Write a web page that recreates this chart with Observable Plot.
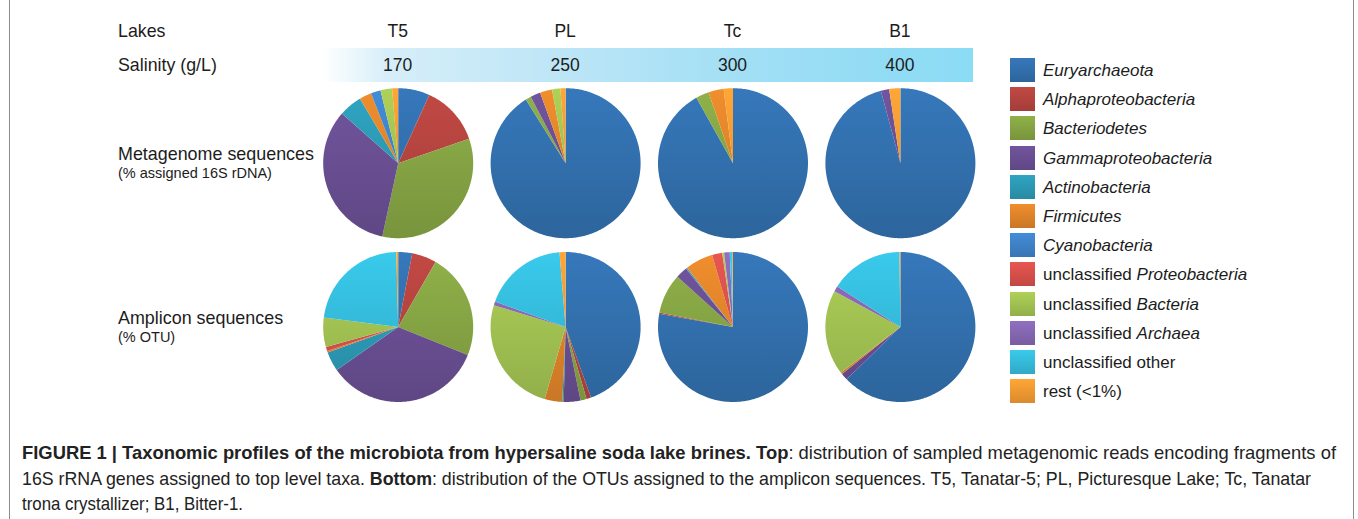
<!DOCTYPE html>
<html><head><meta charset="utf-8">
<script src="https://cdn.jsdelivr.net/npm/d3@7"></script>
<script src="https://cdn.jsdelivr.net/npm/@observablehq/plot@0.6"></script>
<style>
body{margin:0;background:#fff;font-family:"Liberation Sans",Arial,sans-serif;color:#1c1c1c;}
#page{position:relative;width:1358px;height:519px;overflow:hidden;}
.vline{position:absolute;top:0;width:1px;height:519px;background:#8c8c8c;}
.t{position:absolute;white-space:nowrap;line-height:1;transform:translateY(-50%);}
.c{transform:translate(-50%,-50%);}
#salbar{position:absolute;left:322px;top:48px;width:651px;height:34px;
 background:linear-gradient(to right,#ffffff 0%,#d6eef9 10%,#bfe6f7 35%,#a6e0f5 60%,#92dcf4 85%,#8cdcf5 100%);}
.sw{position:absolute;left:1010px;width:25px;height:24px;}
.lg{position:absolute;left:1043px;font-size:17px;white-space:nowrap;line-height:1;transform:translateY(-50%);}
#cap{position:absolute;left:22px;top:441px;font-family:"Liberation Sans Narrow","Liberation Sans",Arial,sans-serif;font-size:17.8px;line-height:25.5px;white-space:nowrap;color:#222;}
#cap span{display:inline-block;transform-origin:0 50%;}
#chart{position:absolute;left:0;top:85px;}
</style></head>
<body>
<div id="page">
  <div class="vline" style="left:9px"></div>
  <div class="vline" style="left:1353px"></div>
  <div id="salbar"></div>
  <div id="chart"></div>
  <div id="cap">
    <div><span data-w="1314"><b>FIGURE 1 | Taxonomic profiles of the microbiota from hypersaline soda lake brines. Top</b>: distribution of sampled metagenomic reads encoding fragments of</span></div>
    <div><span data-w="1289">16S rRNA genes assigned to top level taxa. <b>Bottom</b>: distribution of the OTUs assigned to the amplicon sequences. T5, Tanatar-5; PL, Picturesque Lake; Tc, Tanatar</span></div>
    <div><span data-w="221">trona crystallizer; B1, Bitter-1.</span></div>
  </div>
</div>
<script>
// ---------- data ----------
const lakes = ["T5", "PL", "Tc", "B1"];
const salinity = [170, 250, 300, 400];
const headerLabels = ["Lakes", "Salinity (g/L)"];
const rowLabels = ["Metagenome sequences", "Amplicon sequences"];
const rowSubLabels = ["(% assigned 16S rDNA)", "(% OTU)"];
const taxa = ["Euryarchaeota", "Alphaproteobacteria", "Bacteriodetes", "Gammaproteobacteria",
  "Actinobacteria", "Firmicutes", "Cyanobacteria", "unclassified Proteobacteria",
  "unclassified Bacteria", "unclassified Archaea", "unclassified other", "rest (<1%)"];
const taxaLabelHtml = ["<i>Euryarchaeota</i>", "<i>Alphaproteobacteria</i>", "<i>Bacteriodetes</i>",
  "<i>Gammaproteobacteria</i>", "<i>Actinobacteria</i>", "<i>Firmicutes</i>", "<i>Cyanobacteria</i>",
  "unclassified <i>Proteobacteria</i>", "unclassified <i>Bacteria</i>", "unclassified <i>Archaea</i>",
  "unclassified other", "rest (&lt;1%)"];
const taxaColors = ["#3270ae", "#b5443f", "#86a544", "#6a4f93", "#2c9ab5", "#e0842a",
  "#3f82c8", "#d8504b", "#a2c352", "#8667b3", "#35bcdc", "#f49b32"];
// percentages per sample, in taxa order
const metaT5 = [6.8, 12.9, 33.7, 33.1, 5.0, 2.6, 2.1, 0, 2.5, 0, 0, 1.3];
const metaPL = [91.1, 0, 1.2, 2.2, 0, 2.6, 0, 0, 1.8, 0, 0, 1.1];
const metaTc = [91.9, 0, 2.8, 0, 0, 3.3, 0, 0, 0, 0, 0, 2.0];
const metaB1 = [95.8, 0, 0, 1.8, 0, 0, 0, 0, 0, 0, 0, 2.4];
const ampT5 = [3.0, 5.3, 22.8, 34.2, 4.2, 0.3, 0, 0.9, 6.3, 0, 22.6, 0.4];
const ampPL = [44.5, 1.0, 1.3, 3.6, 0.3, 3.8, 0, 0, 25.2, 0.8, 18.2, 1.3];
const ampTc = [77.8, 0.3, 8.6, 2.5, 0.3, 6.0, 0, 2.2, 0.4, 1.2, 0.5, 0.2];
const ampB1 = [62.7, 0, 0, 1.5, 0, 0.4, 0, 0, 18.3, 1.2, 15.7, 0.2];
const samples = [
  {lake: 0, row: 0, values: metaT5}, {lake: 1, row: 0, values: metaPL},
  {lake: 2, row: 0, values: metaTc}, {lake: 3, row: 0, values: metaB1},
  {lake: 0, row: 1, values: ampT5}, {lake: 1, row: 1, values: ampPL},
  {lake: 2, row: 1, values: ampTc}, {lake: 3, row: 1, values: ampB1}
];

// ---------- layout ----------
const page = document.getElementById("page");
const W = 1000, H = 335, TOP = 85, U = 75;           // U: pixels per unit (pie radius)
const colX0 = 397.7 / U, colStep = 167.4 / U;
const rowY0 = (162.7 - TOP) / U, rowStep = 163.8 / U;
const pageColX = i => (colX0 + i * colStep) * U;

function addText(html, x, y, size, cls = "t", extra = "") {
  const d = document.createElement("div");
  d.className = cls;
  d.style.cssText = `left:${x}px;top:${y}px;font-size:${size}px;${extra}`;
  d.innerHTML = html;
  page.appendChild(d);
}
addText(headerLabels[0], 118, 32, 17.8);
addText(headerLabels[1], 118, 66, 17.8);
lakes.forEach((l, i) => addText(l, pageColX(i), 32, 17.5, "t c"));
salinity.forEach((s, i) => addText(String(s), pageColX(i), 66, 17.5, "t c"));
rowLabels.forEach((r, i) => {
  const cy = TOP + (rowY0 + i * rowStep) * U;
  addText(r, 118, cy - 8, 17.9);
  addText(rowSubLabels[i], 118, cy + 10, 14.5);
});
taxa.forEach((t, k) => {
  const cy = 70 + k * 29.2;
  const sw = document.createElement("div");
  sw.className = "sw";
  const c = d3.rgb(taxaColors[k]);
  sw.style.cssText = `top:${cy - 12}px;background:linear-gradient(to bottom,${c.brighter(0.2)},${c.darker(0.3)});`;
  page.appendChild(sw);
  const lg = document.createElement("div");
  lg.className = "lg";
  lg.style.top = cy + "px";
  lg.innerHTML = taxaLabelHtml[k];
  page.appendChild(lg);
});

// ---------- pie polygons ----------
const pts = [];
samples.forEach((s, si) => {
  const cx = colX0 + s.lake * colStep, cy = rowY0 + s.row * rowStep;
  const arcs = d3.pie().sort(null).value(d => d)(s.values);
  arcs.forEach((a, k) => {
    if (!(a.data > 0)) return;
    const id = si + "-" + k, fill = `url(#g${s.row}_${k})`;
    pts.push({id, x: cx, y: cy, fill});
    const n = Math.max(2, Math.ceil((a.endAngle - a.startAngle) / (Math.PI / 180)));
    for (let i = 0; i <= n; i++) {
      const t = a.startAngle + (a.endAngle - a.startAngle) * i / n;
      pts.push({id, x: cx + Math.sin(t), y: cy - Math.cos(t), fill});
    }
  });
});

const chart = Plot.plot({
  width: W, height: H, margin: 0,
  style: {background: "transparent"},
  x: {domain: [0, W / U], range: [0, W], axis: null},
  y: {domain: [0, H / U], range: [0, H], axis: null},
  color: {type: "identity"},
  marks: [
    Plot.line(pts, {x: "x", y: "y", z: "id", fill: "fill", stroke: "none", curve: "linear"})
  ]
});
const ys = chart.scale("y");
const defs = d3.select(chart).insert("defs", ":first-child");
[0, 1].forEach(r => {
  const cy = rowY0 + r * rowStep;
  taxaColors.forEach((col, k) => {
    const c = d3.rgb(col);
    const g = defs.append("linearGradient").attr("id", `g${r}_${k}`)
      .attr("gradientUnits", "userSpaceOnUse")
      .attr("x1", 0).attr("x2", 0).attr("y1", ys.apply(cy - 1)).attr("y2", ys.apply(cy + 1));
    g.append("stop").attr("offset", 0).attr("stop-color", c.brighter(0.2).toString());
    g.append("stop").attr("offset", 1).attr("stop-color", c.darker(0.3).toString());
  });
});
document.getElementById("chart").appendChild(chart);

// ---------- caption fit (each line to its measured width in the figure) ----------
document.querySelectorAll("#cap span").forEach(sp => {
  const w = sp.getBoundingClientRect().width;
  sp.style.transform = `scaleX(${(+sp.dataset.w) / w})`;
});
</script>
</body></html>
